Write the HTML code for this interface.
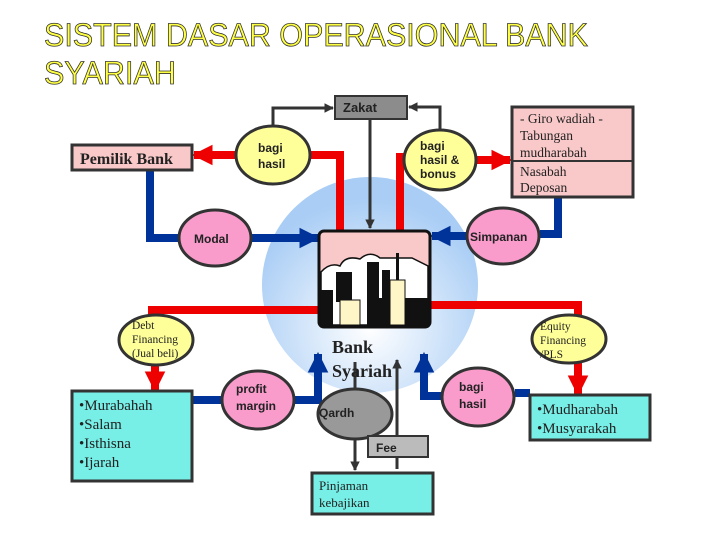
<!DOCTYPE html>
<html><head><meta charset="utf-8"><style>
html,body{margin:0;padding:0;background:#fff;width:720px;height:540px;overflow:hidden}
svg{display:block}
.s{font-family:"Liberation Sans",Arial,sans-serif;font-weight:bold;fill:#222}
.r{font-family:"Liberation Serif","Times New Roman",serif;fill:#222}
</style></head><body>
<svg width="720" height="540" viewBox="0 0 720 540" xmlns="http://www.w3.org/2000/svg">
<defs>
<radialGradient id="g" cx="0.5" cy="0.7" r="0.6">
<stop offset="0" stop-color="#ffffff"/><stop offset="1" stop-color="#a9cdf5"/>
</radialGradient>
<marker id="ar" viewBox="0 0 10 10" refX="9" refY="5" markerWidth="2.6" markerHeight="2.6" orient="auto"><path d="M0,0L10,5L0,10z" fill="#ee0000"/></marker>
<marker id="ab" viewBox="0 0 10 10" refX="9" refY="5" markerWidth="2.6" markerHeight="2.6" orient="auto"><path d="M0,0L10,5L0,10z" fill="#003399"/></marker>
<marker id="ag" viewBox="0 0 10 10" refX="9" refY="5" markerWidth="3.2" markerHeight="3.2" orient="auto"><path d="M0,0L10,5L0,10z" fill="#333"/></marker>
</defs>
<g font-family="'Liberation Sans',Arial,sans-serif" font-size="32" fill="#ffff44" stroke="#333" stroke-width="0.8">
<text x="44" y="46" textLength="544" lengthAdjust="spacingAndGlyphs">SISTEM DASAR OPERASIONAL BANK</text>
<text x="44" y="84" textLength="132" lengthAdjust="spacingAndGlyphs">SYARIAH</text>
</g>
<circle cx="370" cy="285" r="108" fill="url(#g)"/>
<g fill="none" stroke="#ee0000" stroke-width="8">
<path d="M308,155H340V232"/>
<path d="M236,155H194" marker-end="url(#ar)"/>
<path d="M400,232V157H406"/>
<path d="M474,160H510" marker-end="url(#ar)"/>
<path d="M322,310H152V318"/>
<path d="M155,364V390" marker-end="url(#ar)"/>
<path d="M430,305H578V316"/>
<path d="M578,361V394" marker-end="url(#ar)"/>
</g>
<g fill="none" stroke="#003399" stroke-width="8">
<path d="M150,170V238H180"/>
<path d="M251,238H318" marker-end="url(#ab)"/>
<path d="M558,196V234H540"/>
<path d="M467,236H432" marker-end="url(#ab)"/>
<path d="M192,400H222"/>
<path d="M294,400H318V354" marker-end="url(#ab)"/>
<path d="M530,393H515"/>
<path d="M441,396H424V354" marker-end="url(#ab)"/>
</g>
<g fill="none" stroke="#333" stroke-width="3">
<path d="M273,126V108H333" marker-end="url(#ag)"/>
<path d="M440,131V107H409" marker-end="url(#ag)"/>
<path d="M370,119V228" marker-end="url(#ag)"/>
<path d="M355,362V470" marker-end="url(#ag)"/>
<path d="M397,469V360" marker-end="url(#ag)"/>
</g>
<rect x="335" y="96" width="72" height="23" fill="#8c8c8c" stroke="#333" stroke-width="2"/>
<text x="343" y="112" class="s" font-size="13">Zakat</text>
<rect x="72" y="145" width="120" height="25" fill="#f9c8c8" stroke="#333" stroke-width="3"/>
<text x="80" y="164" class="r" font-size="16" font-weight="bold">Pemilik Bank</text>
<rect x="512" y="107" width="121" height="90" fill="#f9c8c8" stroke="#333" stroke-width="3"/>
<line x1="512" y1="161" x2="633" y2="161" stroke="#333" stroke-width="2"/>
<g class="r" font-size="13.5"><text x="520" y="123">-  Giro wadiah -</text><text x="520" y="140">Tabungan</text><text x="520" y="157">mudharabah</text><text x="520" y="176">Nasabah</text><text x="520" y="192">Deposan</text></g>
<g stroke="#333" stroke-width="3">
<ellipse cx="273" cy="155" rx="37" ry="29" fill="#ffff99"/>
<ellipse cx="440" cy="160" rx="36" ry="30" fill="#ffff99"/>
<ellipse cx="215" cy="238" rx="36" ry="28" fill="#f99ccc"/>
<ellipse cx="503" cy="236" rx="36" ry="28" fill="#f99ccc"/>
<ellipse cx="156" cy="340" rx="37" ry="25" fill="#ffff99"/>
<ellipse cx="569" cy="339" rx="37" ry="24" fill="#ffff99"/>
<ellipse cx="258" cy="400" rx="36" ry="29" fill="#f99ccc"/>
<ellipse cx="478" cy="397" rx="36" ry="29" fill="#f99ccc"/>
<ellipse cx="355" cy="414" rx="37" ry="25" fill="#999"/>
</g>
<g class="s" font-size="12" font-weight="normal">
<text x="258" y="152">bagi</text><text x="258" y="168">hasil</text>
<text x="420" y="150">bagi</text><text x="420" y="164">hasil &amp;</text><text x="420" y="178">bonus</text>
<text x="194" y="243">Modal</text>
<text x="470" y="241">Simpanan</text>
<text x="236" y="393">profit</text><text x="236" y="410">margin</text>
<text x="459" y="391">bagi</text><text x="459" y="408">hasil</text>
<text x="319" y="417">Qardh</text>
</g>
<g class="r" font-size="11.5"><text x="132" y="329">Debt</text><text x="132" y="343">Financing</text><text x="132" y="357">(Jual beli)</text>
<text x="540" y="330">Equity</text><text x="540" y="344">Financing</text><text x="540" y="358">/PLS</text></g>
<rect x="72" y="391" width="120" height="90" fill="#77eee6" stroke="#333" stroke-width="3"/>
<g class="r" font-size="15"><text x="79" y="410">•Murabahah</text><text x="79" y="429">•Salam</text><text x="79" y="448">•Isthisna</text><text x="79" y="467">•Ijarah</text></g>
<rect x="530" y="395" width="120" height="45" fill="#77eee6" stroke="#333" stroke-width="3"/>
<g class="r" font-size="15"><text x="537" y="414">•Mudharabah</text><text x="537" y="433">•Musyarakah</text></g>
<rect x="368" y="436" width="60" height="21" fill="#bbb" stroke="#333" stroke-width="2"/>
<text x="376" y="452" class="s" font-size="12" font-weight="normal">Fee</text>
<rect x="312" y="473" width="121" height="41" fill="#77eee6" stroke="#333" stroke-width="3"/>
<g class="r" font-size="13"><text x="319" y="490">Pinjaman</text><text x="319" y="507">kebajikan</text></g>
<g class="r" font-size="18" font-weight="bold"><text x="332" y="353">Bank</text><text x="332" y="377">Syariah</text></g>
<rect x="319" y="231" width="111" height="96" rx="5" fill="#f9c8c8" stroke="#111" stroke-width="3"/>
<path d="M321,272 Q330,262 340,266 Q345,255 360,259 Q370,250 380,258 L412,258 Q420,262 428,266 V325 H321Z" fill="#fff" stroke="#111" stroke-width="1.5"/>
<rect x="321" y="290" width="12" height="35" fill="#111"/>
<rect x="336" y="272" width="16" height="30" fill="#111"/>
<rect x="340" y="300" width="20" height="25" fill="#fff6c8" stroke="#111"/>
<rect x="367" y="262" width="12" height="63" fill="#111"/>
<rect x="382" y="270" width="8" height="40" fill="#111"/>
<rect x="375" y="298" width="15" height="27" fill="#111"/>
<rect x="390" y="280" width="15" height="45" fill="#fff6c8" stroke="#111"/>
<rect x="396" y="253" width="3" height="27" fill="#111"/>
<rect x="405" y="298" width="23" height="27" fill="#111"/>
</svg>
</body></html>
